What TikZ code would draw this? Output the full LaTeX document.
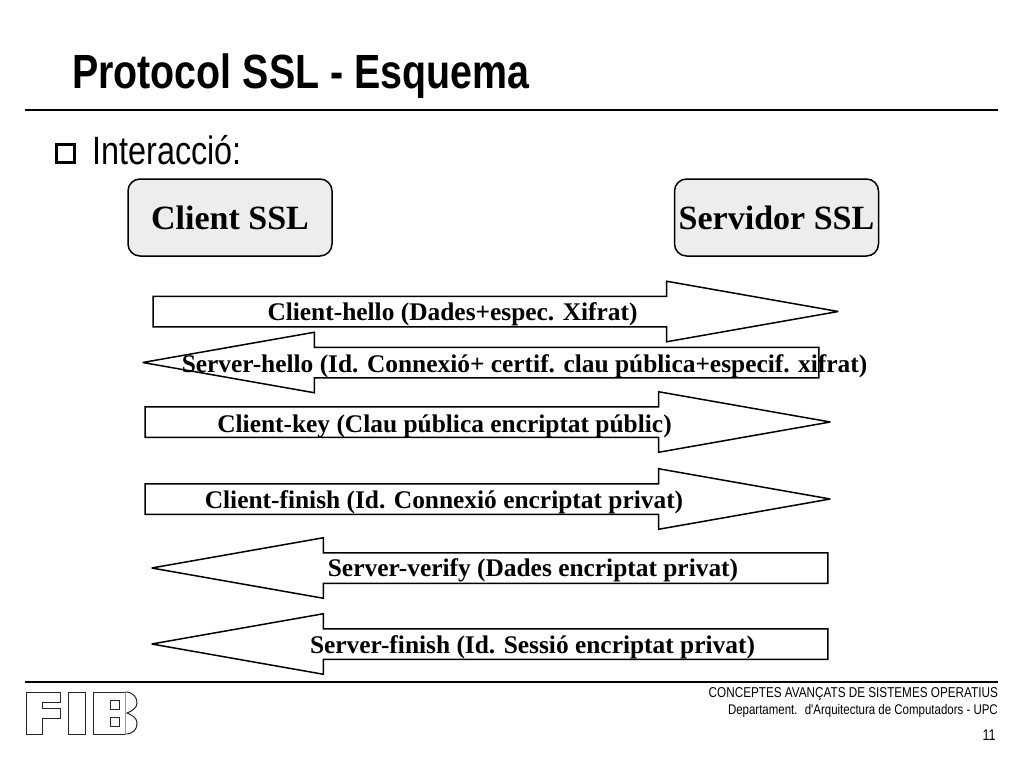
\documentclass[tikz,border=0pt]{standalone}
\usepackage{fontspec}
\setmainfont{Liberation Serif}
\newfontfamily\narrowsans[FakeStretch=0.82]{Liberation Sans}
\usetikzlibrary{shapes.arrows}

\tikzset{
  msgarrow/.style={shape=single arrow, draw=black, line width=1.5pt, fill=white, inner xsep=0pt, inner ysep=14.5pt, outer sep=0pt,
    single arrow head extend=15pt, single arrow tip angle=20, miter limit=3},
  msglabel/.style={font=\fontsize{25.4}{25.4}\selectfont\bfseries, inner sep=0pt},
  peerbox/.style={draw=black, line width=1.5pt, fill=black!7, rounded corners=12pt, minimum width=204pt, minimum height=77pt,
    font=\fontsize{34}{34}\selectfont\bfseries, inner sep=0pt},
  footerlabel/.style={font=\narrowsans\fontsize{14.3}{14.3}\selectfont, anchor=east, inner sep=0pt},
  logoline/.style={draw=black!85, line width=1pt}
}

\begin{document}
\begin{tikzpicture}[x=1pt, y=-1pt]
\useasboundingbox (0,0) rectangle (1024,768);

\node[font=\narrowsans\bfseries\fontsize{48}{48}\selectfont, anchor=west, inner sep=0pt] (title) at (72,76) {Protocol SSL - Esquema};
\draw[line width=1.5pt] (25,110) -- (998,110);

\node[draw=black, line width=2.2pt, minimum size=18pt, inner sep=0pt] (bullet) at (65.5,153.5) {};
\node[font=\narrowsans\fontsize{39.5}{39.5}\selectfont, anchor=west, inner sep=0pt] (topic) at (92,150) {Interacció:};

\node[peerbox] (client) at (230,217.5) {Client SSL};
\node[peerbox] (server) at (776.5,217.5) {Servidor SSL};

\node[msgarrow, minimum height=685pt] (clienthello) at (452.5,311.5) {};
\node[msgarrow, minimum height=676pt, shape border rotate=180] (serverhello) at (524,362.5) {};
\node[msgarrow, minimum height=685pt] (clientkey) at (444.5,422) {};
\node[msgarrow, minimum height=685pt] (clientfinish) at (444.5,499) {};
\node[msgarrow, minimum height=676pt, shape border rotate=180] (serververify) at (533,568) {};
\node[msgarrow, minimum height=676pt, shape border rotate=180] (serverfinish) at (533,644) {};

\node[msglabel] (lblclienthello) at (452.5,314.5) {Client-hello (Dades+espec. Xifrat)};
\node[msglabel] (lblserverhello) at (524.5,366.5) {Server-hello (Id. Connexió+ certif. clau pública+especif. xifrat)};
\node[msglabel] (lblclientkey) at (444.5,426.5) {Client-key (Clau pública encriptat públic)};
\node[msglabel] (lblclientfinish) at (444,502.5) {Client-finish (Id. Connexió encriptat privat)};
\node[msglabel] (lblserververify) at (533,570.5) {Server-verify (Dades encriptat privat)};
\node[msglabel] (lblserverfinish) at (532.5,647.5) {Server-finish (Id. Sessió encriptat privat)};

\draw[line width=1.5pt] (25,682) -- (998,682);

\draw[logoline] (26,692) -- (60,692) -- (60,702) -- (42,702) -- (42,708) -- (60,708) -- (60,718) -- (42,718) -- (42,734) -- (26,734) -- cycle;
\draw[logoline] (68,692) rectangle (85,734);
\draw[logoline] (125,692) -- (93,692) -- (93,734) -- (125,734);
\draw[logoline] (125,692) .. controls (134,692) and (137,698) .. (137,703) .. controls (137,708) and (132,711) .. (127,713) .. controls (132,715) and (137,718) .. (137,723) .. controls (137,729) and (134,734) .. (125,734);
\draw[black!40, line width=0.6pt] (125,692) -- (125,734);
\draw[logoline] (110,700) rectangle (119,709);
\draw[logoline] (110,717) rectangle (119,726);

\node[footerlabel] (course) at (998,694) {CONCEPTES AVANÇATS DE SISTEMES OPERATIUS};
\node[footerlabel, font=\narrowsans\fontsize{14}{14}\selectfont] (dept) at (998,711) {Departament.\hspace{3pt} d'Arquitectura de Computadors - UPC};
\node[footerlabel, font=\narrowsans\fontsize{15.5}{15.5}\selectfont] (page) at (996,735) {11};
\end{tikzpicture}
\end{document}
